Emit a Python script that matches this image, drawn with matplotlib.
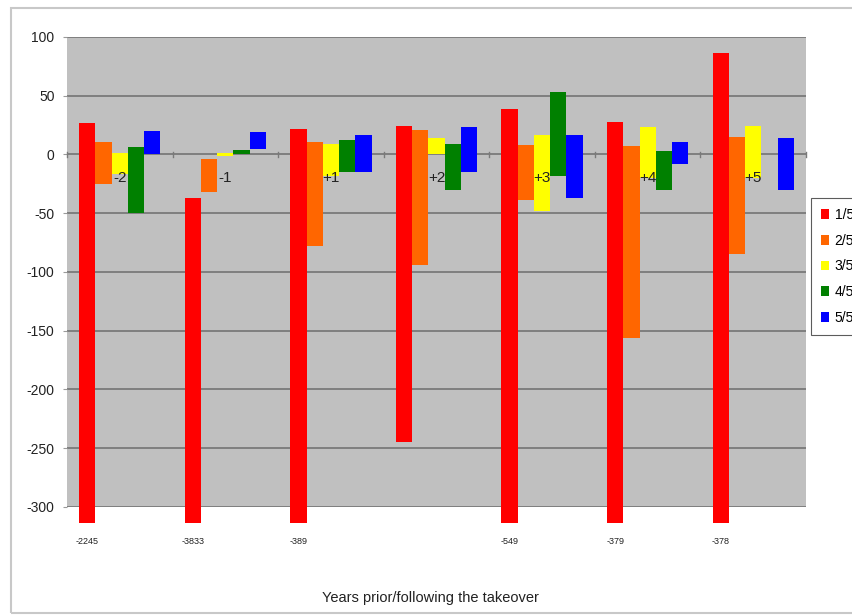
import numpy as np
import matplotlib
matplotlib.use("Agg")
import matplotlib.pyplot as plt
from matplotlib.patches import Rectangle, Patch

plt.rcParams['font.family'] = ['Liberation Sans', 'DejaVu Sans']
plt.rcParams['axes.unicode_minus'] = False

categories = ["-2", "-1", "+1", "+2", "+3", "+4", "+5"]
series_names = ["1/5", "2/5", "3/5", "4/5", "5/5"]
colors = ["#FF0000", "#FF6600", "#FFFF00", "#008000", "#0000FF"]

# floating bars: each bar spans from its low value to its high value
q1_high = [27, -37, 22, 24, 39, 28, 86]
q1_low = [-2245, -3833, -389, -245, -549, -379, -378]
q2_high = [11, -4, 11, 21, 8, 7, 15]
q2_low = [-25, -32, -78, -94, -39, -156, -85]
q3_high = [1, 1, 9, 14, 17, 23, 24]
q3_low = [-17, -1, -18, 0, -48, -20, -20]
q4_high = [6, 4, 12, 9, 53, 3, np.nan]
q4_low = [-50, 0, -15, -30, -18, -30, np.nan]
q5_high = [20, 19, 17, 23, 17, 11, 14]
q5_low = [0, 5, -15, -15, -37, -8, -30]

highs = [q1_high, q2_high, q3_high, q4_high, q5_high]
lows = [q1_low, q2_low, q3_low, q4_low, q5_low]

fig = plt.figure(figsize=(8.53, 6.15), dpi=100)
ax = fig.add_axes([67 / 853, 1 - 507 / 615, (806 - 67) / 853, (507 - 37) / 615])
ax.set_facecolor("#C0C0C0")

ymin, ymax = -300, 100
ax.set_ylim(ymin, ymax)
n = len(categories)
ax.set_xlim(-0.5, n - 0.5)

# grid lines
for yv in np.arange(ymin, ymax + 1, 50):
    ax.axhline(yv, color="#7a7a7a", lw=1.3, zorder=1)

# bars may run slightly past the bottom of the plotting area
clip_rect = Rectangle((0, -0.034), 1, 1.034, transform=ax.transAxes,
                      facecolor="none", edgecolor="none")
ax.add_patch(clip_rect)

w = 1 / 6.5
x = np.arange(n)
for k in range(5):
    hi = np.array(highs[k], dtype=float)
    lo = np.array(lows[k], dtype=float)
    bars = ax.bar(x + (k - 2) * w, hi - lo, bottom=lo, width=w,
                  color=colors[k], edgecolor="none", zorder=3)
    for b in bars:
        b.set_clip_path(clip_rect)

# values of red bars that run off the scale
for i, v in enumerate(q1_low):
    if v < ymin:
        ax.annotate(f"{v:d}", xy=(x[i] - 2 * w, ymin), xytext=(0, -25),
                    textcoords="offset points", ha="center", va="center",
                    fontsize=6.5, color="#222222", annotation_clip=False)

# category labels next to the zero axis
for i, c in enumerate(categories):
    ax.annotate(c, xy=(x[i], 0), xytext=(0, -17), textcoords="offset points",
                ha="center", va="center", fontsize=11, color="#222222", zorder=5)

# small category ticks on the zero line
for b in np.arange(-0.5, n, 1.0):
    ax.plot([b, b], [-2.5, 2.5], color="#7a7a7a", lw=1, zorder=2, clip_on=False)

for s in ax.spines.values():
    s.set_visible(False)
ax.set_xticks([])
ax.set_yticks(np.arange(ymin, ymax + 1, 50))
ax.tick_params(axis="y", length=3, color="#9a9a9a", pad=6, labelsize=10,
               labelcolor="#222222")

fig.text(430 / 853, 1 - 598 / 615, "Years prior/following the takeover",
         ha="center", va="center", fontsize=10.5, color="#222222")

# outer chart border, running off the right edge
fig.add_artist(Rectangle((11 / 853, 2 / 615), 1.2, 1 - 10 / 615,
                         transform=fig.transFigure, facecolor="none",
                         edgecolor="#c8c8c8", lw=1.5))

handles = [Patch(facecolor=c, edgecolor="none") for c in colors]
leg = fig.legend(handles, series_names, loc="upper left",
                 bbox_to_anchor=(811 / 853, 1 - 198 / 615), fontsize=10,
                 frameon=True, fancybox=False, edgecolor="#333333",
                 handlelength=0.6, handleheight=0.7, handletextpad=0.4,
                 labelspacing=0.85, borderpad=0.7, borderaxespad=0)
leg.get_frame().set_linewidth(0.8)

fig.savefig("out.png", dpi=100)
